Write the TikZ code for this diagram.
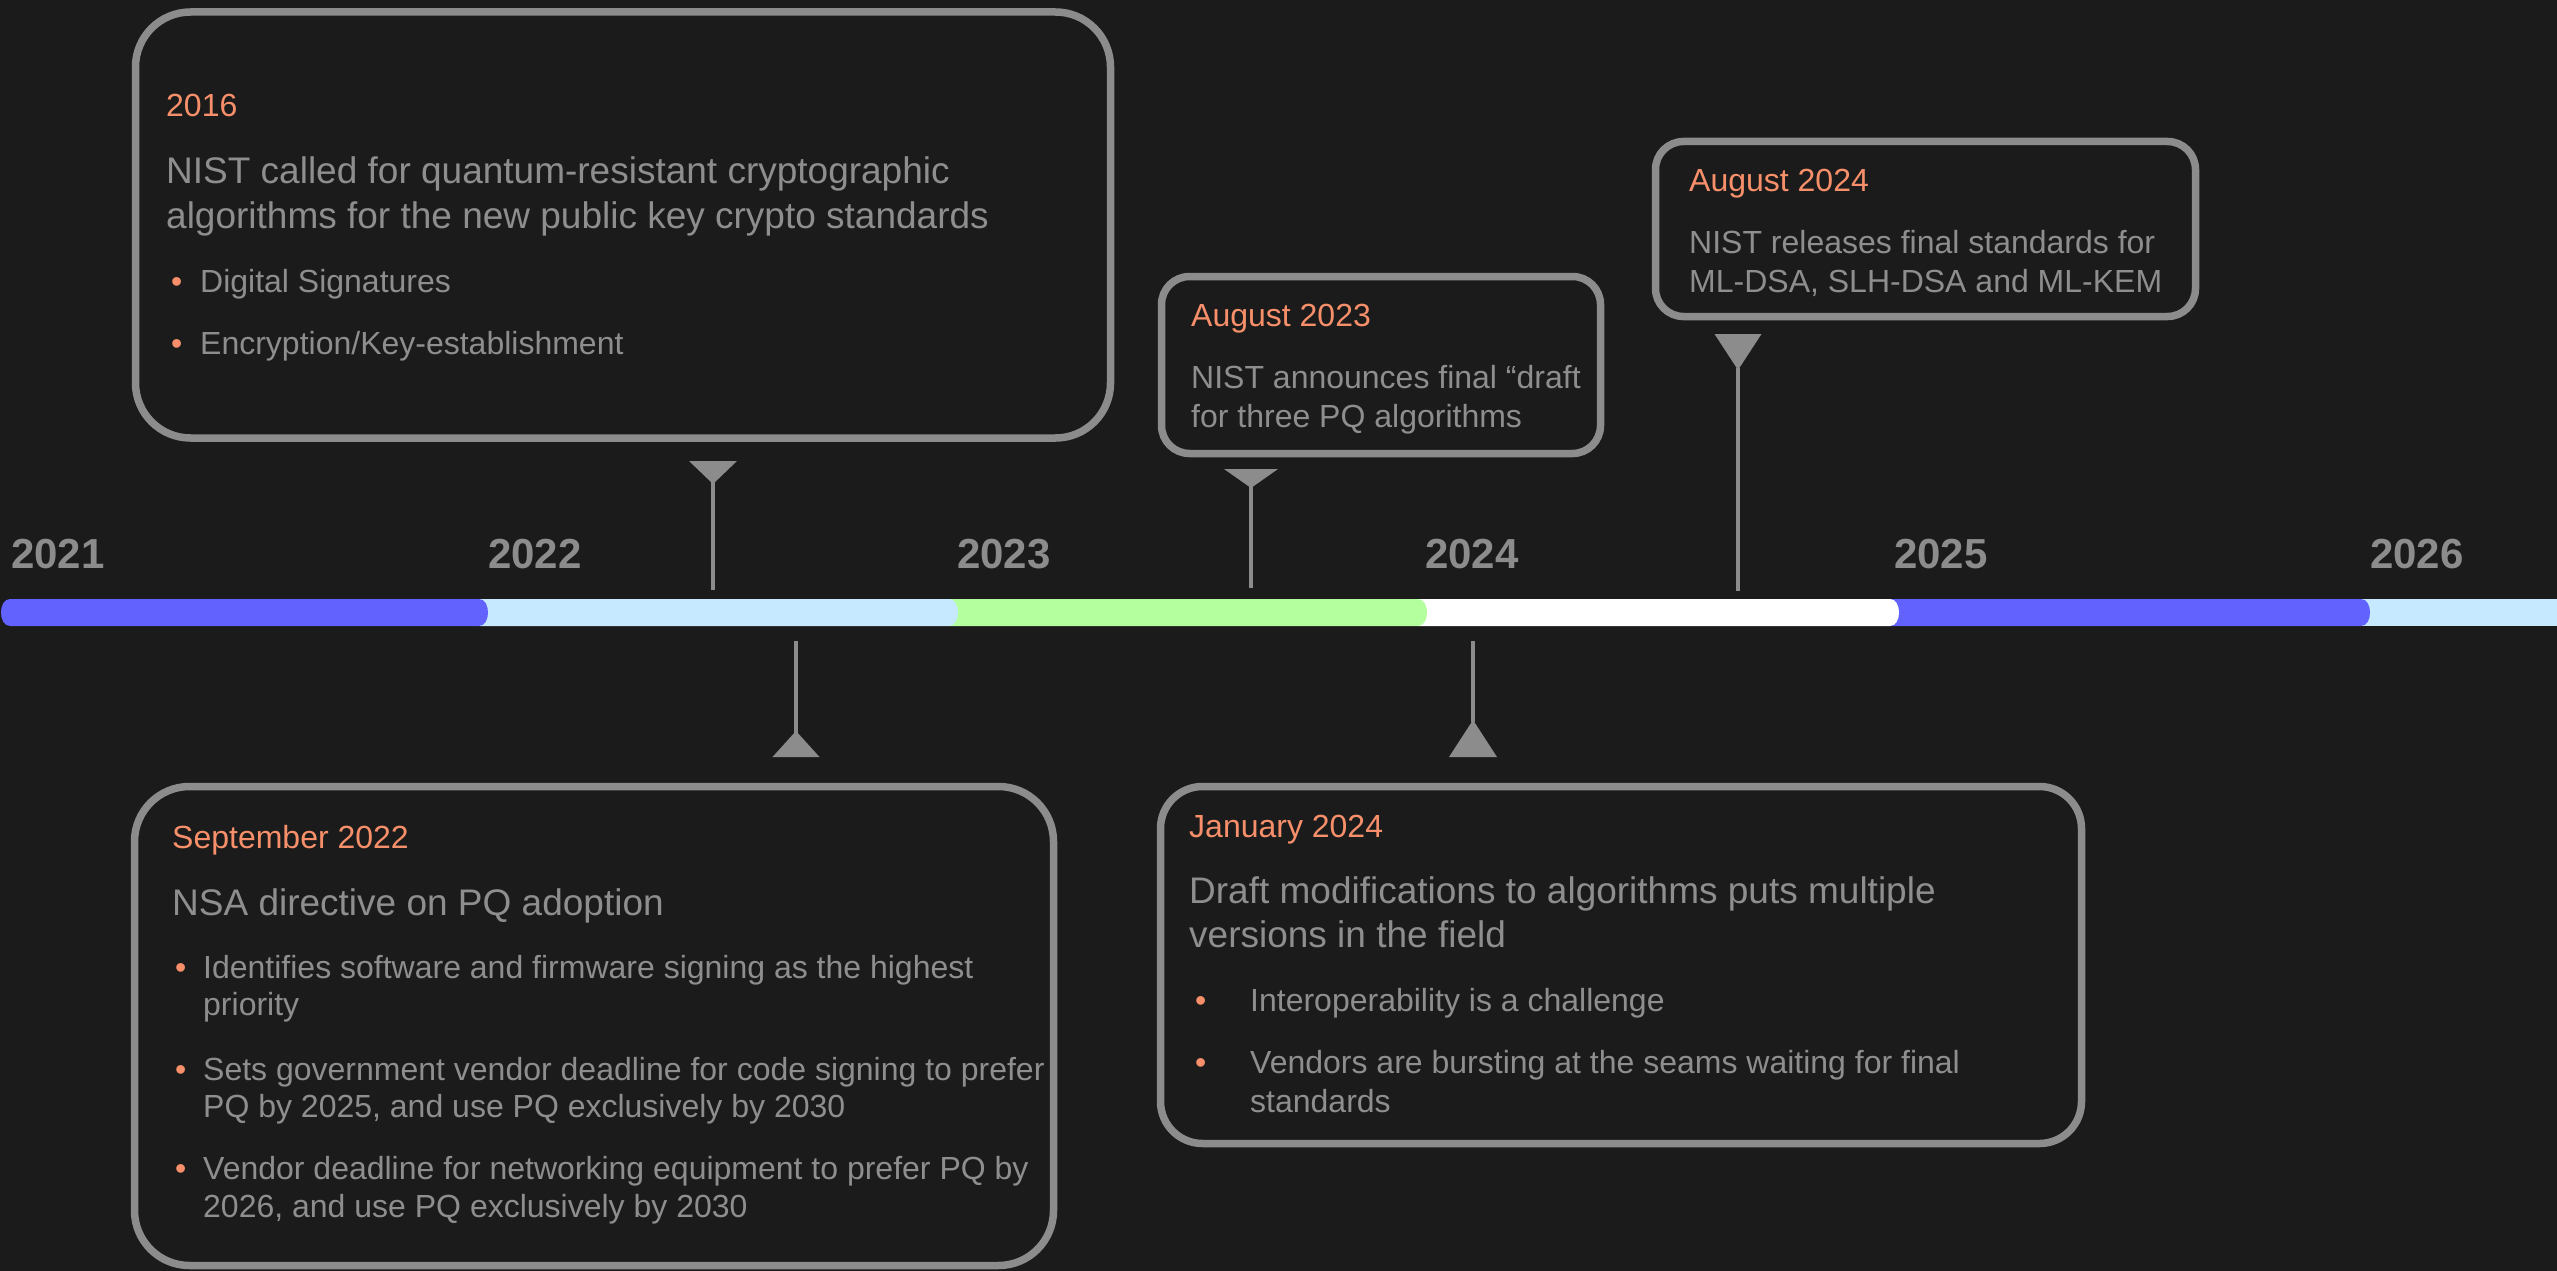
\documentclass[tikz,border=0pt]{standalone}
\usepackage{fontspec}
\setmainfont{Liberation Sans}
\definecolor{bg}{HTML}{1B1B1B}
\definecolor{bordergray}{HTML}{8C8C8C}
\definecolor{txtgray}{HTML}{8E8E8E}
\definecolor{accent}{HTML}{F7906A}
\definecolor{barblue}{HTML}{6262FF}
\definecolor{barlight}{HTML}{C6E9FF}
\definecolor{bargreen}{HTML}{B4FF9E}
\begin{document}
\begin{tikzpicture}[x=1pt,y=-1pt,
  box/.style={draw=bordergray, line width=7.5pt, fill=bg, inner sep=0pt},
  lbl/.style={anchor=base west, inner sep=0pt, text=txtgray, font=\fontsize{32}{38}\selectfont},
  datelbl/.style={lbl, text=accent},
  ttl/.style={lbl, font=\fontsize{37}{44}\selectfont},
  bul/.style={lbl, text=accent},
  yr/.style={anchor=base west, inner sep=0pt, text=bordergray, font=\bfseries\fontsize{42}{50}\selectfont},
  mk/.style={draw=bordergray, line width=4.5pt},
  tri/.style={fill=bordergray},
]
\useasboundingbox (0,0) rectangle (2557,1271);
\fill[bg] (0,0) rectangle (2557,1271);

% ---- timeline bar (drawn right to left) ----
\fill[barlight] (2360,599) rectangle (2557,626);
\fill[barblue] (1890,599) -- (2361,599) .. controls (2373,599) and (2373,626) .. (2361,626) -- (1890,626) -- cycle;
\fill[white] (1418,599) -- (1890,599) .. controls (1902,599) and (1902,626) .. (1890,626) -- (1418,626) -- cycle;
\fill[bargreen] (949,599) -- (1418,599) .. controls (1430,599) and (1430,626) .. (1418,626) -- (949,626) -- cycle;
\fill[barlight] (479,599) -- (949,599) .. controls (961,599) and (961,626) .. (949,626) -- (479,626) -- cycle;
\fill[barblue] (10,599) -- (479,599) .. controls (491,599) and (491,626) .. (479,626) -- (10,626) .. controls (-2,626) and (-2,599) .. (10,599) -- cycle;

% ---- years ----
\node[yr] (y2021) at (11,568) {2021};
\node[yr] (y2022) at (488,568) {2022};
\node[yr] (y2023) at (957,568) {2023};
\node[yr] (y2024) at (1425,568) {2024};
\node[yr] (y2025) at (1894,568) {2025};
\node[yr] (y2026) at (2370,568) {2026};

% ---- boxes ----
\node[box, rounded corners=55pt, minimum width=975pt, minimum height=426pt] (b2016) at (623,225) {};
\node[box, rounded corners=28pt, minimum width=439pt, minimum height=177pt] (b2023) at (1381,365) {};
\node[box, rounded corners=28pt, minimum width=540pt, minimum height=175pt] (b2024) at (1925.5,229) {};
\node[box, rounded corners=55pt, minimum width=919pt, minimum height=479pt] (b2022) at (594,1026) {};
\node[box, rounded corners=42pt, minimum width=921pt, minimum height=357pt] (bjan) at (1621,965) {};

% ---- markers ----
\coordinate (m1a) at (713,482); \coordinate (m1b) at (713,590);
\draw[mk] (m1a) -- (m1b);
\fill[tri] (m1a) ++(-24,-21) -- ++(48,0) -- ++(-24,23) -- cycle;

\coordinate (m2a) at (1251,486); \coordinate (m2b) at (1251,588);
\draw[mk] (m2a) -- (m2b);
\fill[tri] (m2a) ++(-27,-17) -- ++(54,0) -- ++(-27,19) -- cycle;

\coordinate (m3a) at (1738,368); \coordinate (m3b) at (1738,591);
\draw[mk] (m3a) -- (m3b);
\fill[tri] (m3a) ++(-23.5,-34) -- ++(47,0) -- ++(-23.5,36) -- cycle;

\coordinate (m4a) at (796,641); \coordinate (m4b) at (796,733);
\draw[mk] (m4a) -- (m4b);
\fill[tri] (m4b) ++(0,-2) -- ++(23.5,26) -- ++(-47,0) -- cycle;

\coordinate (m5a) at (1473,641); \coordinate (m5b) at (1473,722);
\draw[mk] (m5a) -- (m5b);
\fill[tri] (m5b) ++(0,-2) -- ++(24,37) -- ++(-48,0) -- cycle;

% ---- box 2016 text ----
\node[datelbl] (t1d) at (166,117) {2016};
\node[ttl] (t1a) at (166,183) {NIST called for quantum-resistant cryptographic};
\node[ttl] (t1b) at (166,228) {algorithms for the new public key crypto standards};
\node[bul] (t1p1) at (171,292) {•};
\node[lbl] (t1c) at (200,292) {Digital Signatures};
\node[bul] (t1p2) at (171,354) {•};
\node[lbl] (t1e) at (200,354) {Encryption/Key-establishment};

% ---- box Aug 2023 text ----
\node[datelbl] (t2d) at (1191,326) {August 2023};
\node[lbl] (t2a) at (1191,388) {NIST announces final “draft};
\node[lbl] (t2b) at (1191,427) {for three PQ algorithms};

% ---- box Aug 2024 text ----
\node[datelbl] (t3d) at (1689,191) {August 2024};
\node[lbl] (t3a) at (1689,253) {NIST releases final standards for};
\node[lbl] (t3b) at (1689,292) {ML-DSA, SLH-DSA and ML-KEM};

% ---- box Sept 2022 text ----
\node[datelbl] (t4d) at (172,848) {September 2022};
\node[ttl] (t4t) at (172,915) {NSA directive on PQ adoption};
\node[bul] (t4p1) at (175,978) {•};
\node[lbl] (t4a1) at (203,978) {Identifies software and firmware signing as the highest};
\node[lbl] (t4a2) at (203,1015) {priority};
\node[bul] (t4p2) at (175,1080) {•};
\node[lbl] (t4b1) at (203,1080) {Sets government vendor deadline for code signing to prefer};
\node[lbl] (t4b2) at (203,1117) {PQ by 2025, and use PQ exclusively by 2030};
\node[bul] (t4p3) at (175,1179) {•};
\node[lbl] (t4c1) at (203,1179) {Vendor deadline for networking equipment to prefer PQ by};
\node[lbl] (t4c2) at (203,1217) {2026, and use PQ exclusively by 2030};

% ---- box Jan 2024 text ----
\node[datelbl] (t5d) at (1189,837) {January 2024};
\node[ttl] (t5a) at (1189,903) {Draft modifications to algorithms puts multiple};
\node[ttl] (t5b) at (1189,947) {versions in the field};
\node[bul] (t5p1) at (1195,1011) {•};
\node[lbl] (t5c) at (1250,1011) {Interoperability is a challenge};
\node[bul] (t5p2) at (1195,1073) {•};
\node[lbl] (t5e1) at (1250,1073) {Vendors are bursting at the seams waiting for final};
\node[lbl] (t5e2) at (1250,1112) {standards};
\end{tikzpicture}
\end{document}
